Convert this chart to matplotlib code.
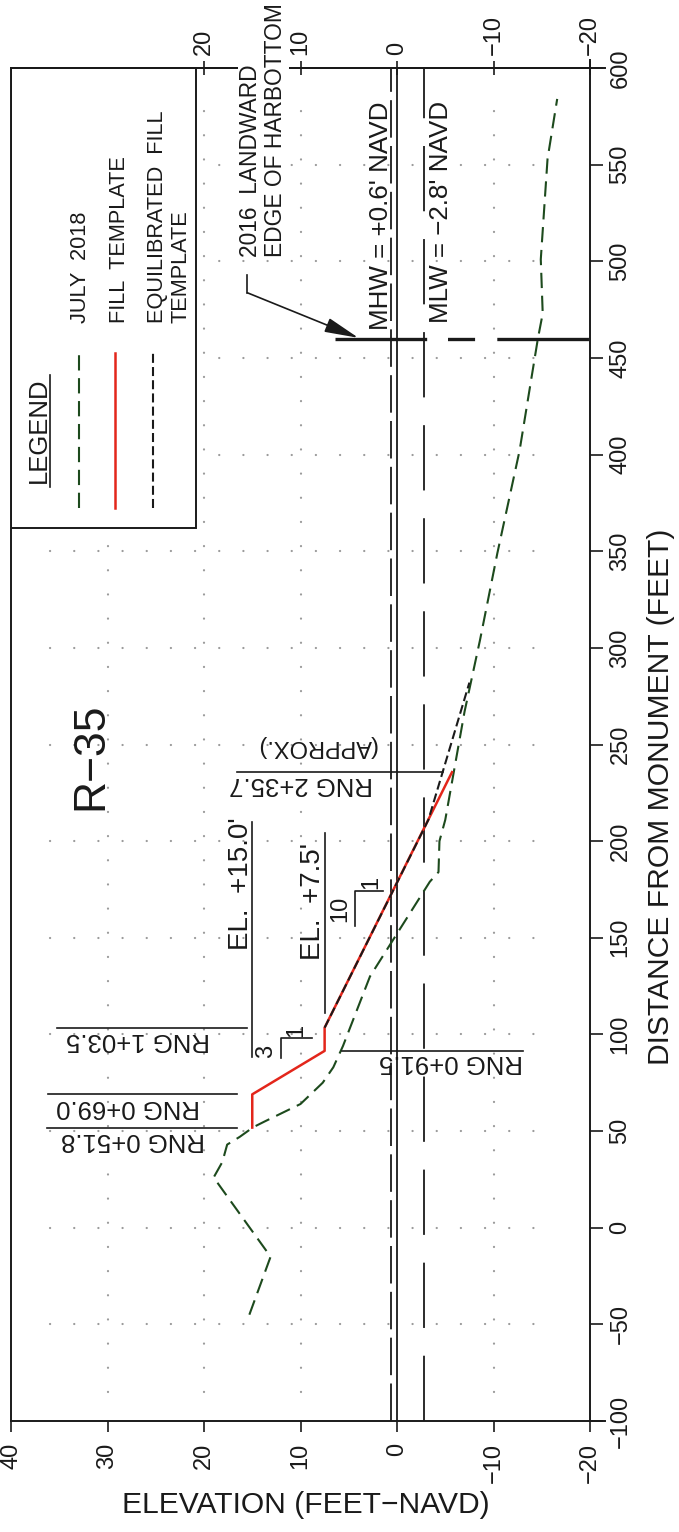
import matplotlib
matplotlib.use("Agg")
import matplotlib.pyplot as plt
from matplotlib import font_manager
from matplotlib.patches import Rectangle

# July 2018 survey: distance from monument (ft) and elevation (ft NAVD)
july_dist = [-45, -15, 26, 34, 43, 47, 52, 55, 64, 75, 83, 94, 130, 179, 184,
             200, 211, 267, 304, 349, 402, 460, 473, 501, 553, 584]
july_elev = [15.3, 13.1, 19.0, 18.1, 17.6, 16.3, 14.9, 13.7, 10.0, 7.7, 6.6,
             5.6, 2.8, -3.4, -4.3, -4.4, -5.0, -7.0, -8.6, -10.4, -12.7,
             -14.6, -15.1, -14.9, -15.6, -16.6]

# fill template
fill_dist = [51.8, 69.0, 91.5, 103.5, 235.7]
fill_elev = [15.0, 15.0, 7.5, 7.5, -5.7]

# equilibrated fill template
equil_dist = [103.5, 211.0, 282.0]
equil_elev = [7.5, -3.25, -7.5]

mhw = 0.6
mlw = -2.8
harbottom_dist = 460          # 2016 landward edge of harbottom
harbottom_elev = [6.4, -20]

elev_ticks = [40, 30, 20, 10, 0, -10, -20]
top_ticks = [20, 10, 0, -10, -20]
dist_ticks = list(range(-100, 601, 50))

GREEN = '#1d4a1d'
RED = '#e3261b'
INK = '#1a1a1a'
GRID = '#9a9a9a'

names = {f.name for f in font_manager.fontManager.ttflist}
base = 'Liberation Sans' if 'Liberation Sans' in names else 'DejaVu Sans'
narrow = 'Liberation Sans Narrow' if 'Liberation Sans Narrow' in names else base
k = 1.0 if narrow != base else 0.84

plt.rcParams['font.family'] = base
plt.rcParams['lines.scale_dashes'] = False

fig = plt.figure(figsize=(6.79, 15.32), dpi=100)
# the section is drawn sideways: elevation runs across (reversed), distance runs up
ax = fig.add_axes([11 / 679, 111 / 1532, 579 / 679, 1353 / 1532])
ax.set_xlim(40, -20)
ax.set_ylim(-100, 600)

for s in ax.spines.values():
    s.set_linewidth(1.4)
    s.set_color(INK)

ax.set_xticks(elev_ticks)
ax.set_yticks(dist_ticks)
ax.tick_params(axis='x', bottom=True, top=False, direction='out', length=8,
               width=1.2, pad=8, labelsize=17, labelrotation=90, colors=INK)
ax.yaxis.tick_right()
ax.tick_params(axis='y', left=False, right=True, direction='out', length=9,
               width=1.2, pad=5, labelsize=17, labelrotation=90, colors=INK)
for lab in ax.get_yticklabels():
    lab.set_va('center')

sec = ax.secondary_xaxis('top')
sec.set_xticks(top_ticks)
sec.tick_params(direction='inout', length=10, width=1.2, pad=4, labelsize=17,
                labelrotation=90, colors=INK)
sec.spines['top'].set_linewidth(1.4)

# border overshoots
ax.plot([-20, -21.6], [-100, -100], color=INK, lw=1.4, clip_on=False)
ax.plot([-20, -21.6], [600, 600], color=INK, lw=1.4, clip_on=False)
ax.plot([-20, -20], [600, 604], color=INK, lw=1.4, clip_on=False)

# dotted grid
dots = dict(color=GRID, lw=1.6, linestyle=(0, (0.1, 17.3)),
            dash_capstyle='round', zorder=1)
for e in [30, 20, 10, -10]:
    ax.plot([e, e], [-85, 585], **dots)
for d in range(-50, 551, 50):
    ax.plot([36, -16], [d, d], **dots)

# tide levels
ax.axvline(0, color=INK, lw=1.3, zorder=2)
ax.axvline(mhw, color=INK, lw=1.3, linestyle=(0, (27, 6)), zorder=2)
ax.axvline(mlw, color=INK, lw=1.3, linestyle=(0, (47, 20)), zorder=2)

# profiles
ax.plot(july_elev, july_dist, color=GREEN, lw=1.5, linestyle=(0, (11, 5.5)), zorder=3)
ax.plot(fill_elev, fill_dist, color=RED, lw=1.8, zorder=3)
ax.plot(equil_elev, equil_dist, color=INK, lw=1.5, linestyle=(0, (6.5, 3)), zorder=4)

# 2016 landward edge of harbottom
ax.plot(harbottom_elev, [harbottom_dist] * 2, color=INK, lw=2.4,
        linestyle=(0, (66, 15, 19.5, 16)), zorder=3)
ax.plot([15.5, 15.5], [493.0, 483.7], color=INK, lw=1.2, zorder=3)
ax.annotate('', xy=(4.0, 460.4), xytext=(15.5, 483.7),
            arrowprops=dict(arrowstyle='-|>,head_length=1.4,head_width=0.3',
                            color=INK, lw=1.2, mutation_scale=15,
                            shrinkA=0, shrinkB=0), zorder=3)


def up(x, y, s, size, family=base, **kw):
    # text reading bottom to top, anchored at the start of its baseline
    ax.text(x, y, s, rotation=90, rotation_mode='anchor', ha='left',
            va='baseline', fontsize=size, family=family, color=INK,
            zorder=6, **kw)


def station(x, y, s, size=18.5):
    # upside-down station labels
    ax.text(x, y, s, rotation=180, rotation_mode='anchor', ha='left',
            va='baseline', fontsize=size, color=INK, zorder=6)


# legend
ax.add_patch(Rectangle((40, 362), -19.2, 238, facecolor='white',
                       edgecolor=INK, lw=1.4, zorder=2.2))
up(36.4, 385.4, 'LEGEND', 22 * k, family=narrow)
ax.plot([36.0, 36.0], [383.3, 441.3], color=INK, lw=1.2, zorder=6)
ax.plot([33.0, 33.0], [372.5, 452.7], color=GREEN, lw=1.5,
        linestyle=(0, (11, 5.5)), zorder=5)
ax.plot([29.2, 29.2], [372.5, 452.7], color=RED, lw=1.8, zorder=5)
ax.plot([25.3, 25.3], [372.5, 452.7], color=INK, lw=1.5,
        linestyle=(0, (6.5, 3)), zorder=5)
up(32.2, 468, 'JULY  2018', 18.7 * k, family=narrow)
up(28.2, 468, 'FILL  TEMPLATE', 18.7 * k, family=narrow)
up(24.25, 468, 'EQUILIBRATED  FILL', 18.7 * k, family=narrow)
up(21.8, 468, 'TEMPLATE', 18.7 * k, family=narrow)

# harbottom note, masks the top border where it crosses it
up(14.5, 502.3, '2016  LANDWARD', 19.5 * k, family=narrow,
   bbox=dict(facecolor='white', edgecolor='none', pad=1))
up(11.9, 502.3, 'EDGE OF HARBOTTOM', 19.5 * k, family=narrow,
   bbox=dict(facecolor='white', edgecolor='none', pad=1))

up(0.93, 464.6, "MHW = +0.6' NAVD", 18.7)
up(-5.3, 468, "MLW = \u22122.8' NAVD", 18.7)

up(30.5, 216.2, 'R\u221235', 32)

# elevation call-outs
up(15.4, 143.8, "EL.  +15.0'", 20)
ax.plot([15.0, 15.0], [88.5, 210], color=INK, lw=1.2, zorder=3)
up(8.0, 138.6, "EL.  +7.5'", 20)
ax.plot([7.5, 7.5], [111, 204], color=INK, lw=1.2, zorder=3)

# stations
station(19.9, 49.1, 'RNG 0+51.8')
ax.plot([36.3, 16.6], [51.8, 51.8], color=INK, lw=1.2, zorder=3)
station(20.4, 66.2, 'RNG 0+69.0')
ax.plot([36.2, 16.6], [69.0, 69.0], color=INK, lw=1.2, zorder=3)
station(19.4, 100.9, 'RNG 1+03.5')
ax.plot([35.2, 15.5], [103.5, 103.5], color=INK, lw=1.2, zorder=3)
station(-13.1, 89.5, 'RNG 0+91.5')
ax.plot([5.7, -13.1], [91.5, 91.5], color=INK, lw=1.2, zorder=3)
station(2.5, 233.3, 'RNG 2+35.7')
station(2.1, 252.5, '(APPROX.)', 17)
ax.plot([16.6, -4.8], [235.7, 235.7], color=INK, lw=1.2, zorder=3)

# slope marks 3:1 and 10:1
ax.plot([12.0, 12.0, 8.8], [88.0, 98.3, 98.3], color=INK, lw=1.2, zorder=3)
ax.text(13.6, 91, '3', rotation=90, ha='center', va='center', fontsize=17,
        color=INK, zorder=6)
ax.text(10.4, 102, '1', rotation=90, ha='center', va='center', fontsize=17,
        color=INK, zorder=6)
ax.plot([4.35, 4.35, 1.45], [156, 174.3, 174.3], color=INK, lw=1.2, zorder=3)
ax.text(5.9, 165, '10', rotation=90, ha='center', va='center', fontsize=17,
        color=INK, zorder=6)
ax.text(2.7, 178.5, '1', rotation=90, ha='center', va='center', fontsize=17,
        color=INK, zorder=6)

fig.text(306 / 679, 1 - 1505 / 1532, 'ELEVATION (FEET\u2212NAVD)', ha='center',
         va='center', fontsize=21.6, color=INK)
fig.text(661 / 679, 1 - 797 / 1532, 'DISTANCE FROM MONUMENT (FEET)',
         rotation=90, ha='center', va='center', fontsize=21.6, color=INK)

fig.savefig('out.png', dpi=100)
